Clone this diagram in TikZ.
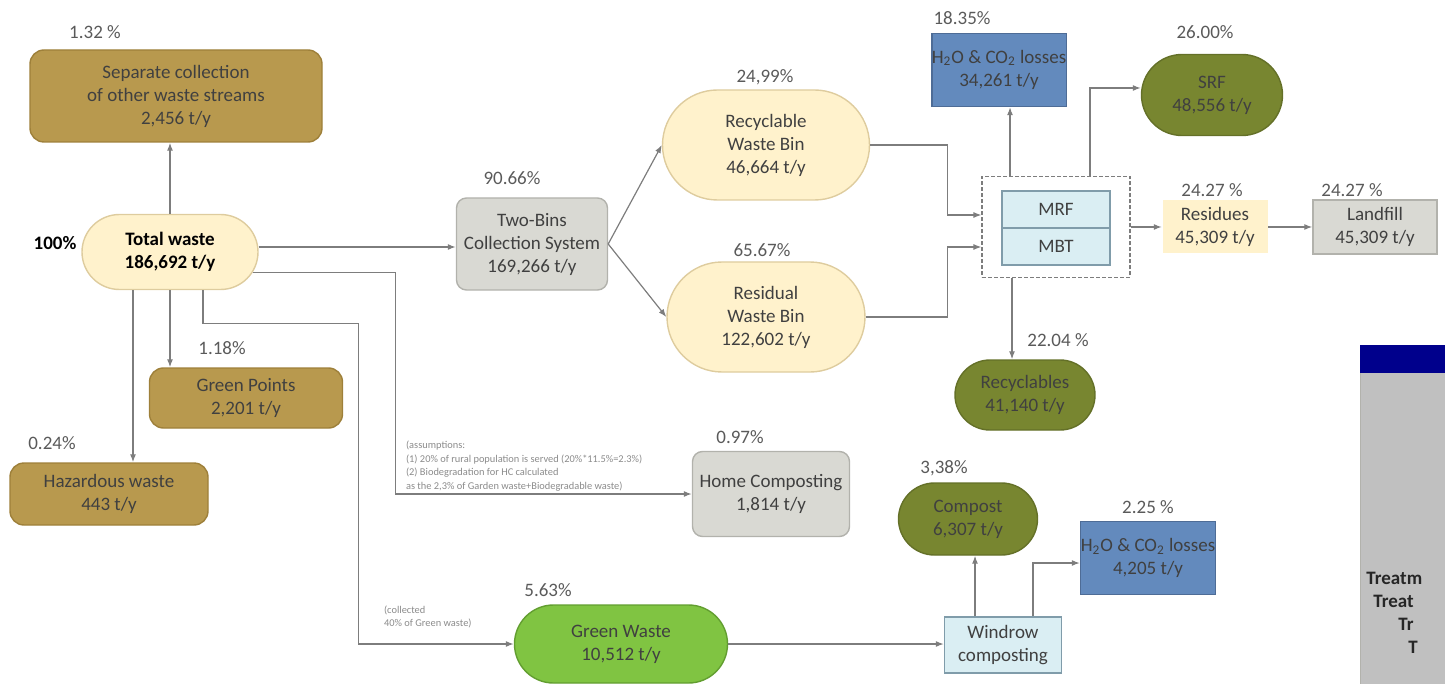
\documentclass[tikz,border=0pt]{standalone}
\usepackage{fontspec}
\setmainfont{Carlito}
\usepackage{xcolor}
\usetikzlibrary{arrows.meta, shapes.misc}

\definecolor{goldfill}{RGB}{184,153,78}
\definecolor{goldline}{RGB}{158,128,58}
\definecolor{olivefill}{RGB}{120,134,48}
\definecolor{oliveline}{RGB}{100,112,40}
\definecolor{yelfill}{RGB}{255,242,204}
\definecolor{yelline}{RGB}{222,204,158}
\definecolor{grayfill}{RGB}{217,217,211}
\definecolor{grayline}{RGB}{178,178,172}
\definecolor{lbfill}{RGB}{218,238,243}
\definecolor{lbline}{RGB}{128,156,170}
\definecolor{bluefill}{RGB}{99,138,189}
\definecolor{blueline}{RGB}{78,108,150}
\definecolor{greenfill}{RGB}{128,196,66}
\definecolor{greenline}{RGB}{98,158,48}
\definecolor{arrgray}{RGB}{125,125,125}
\definecolor{txtgray}{RGB}{64,64,64}
\definecolor{pctgray}{RGB}{90,90,90}
\definecolor{navyhead}{RGB}{0,0,140}
\definecolor{panelgray}{RGB}{192,192,192}

\begin{document}
\begin{tikzpicture}[
      x=0.5pt, y=-0.5pt,
      box/.style={align=center, inner sep=0pt, line width=0.7pt, text=txtgray, font=\fontsize{9.5}{11.5}\selectfont},
      gbox/.style={box, draw=goldline, fill=goldfill, rounded corners=7pt},
      graybox/.style={box, draw=grayline, fill=grayfill, rounded corners=5pt},
      ypill/.style={box, rounded rectangle, draw=yelline, fill=yelfill},
      opill/.style={box, rounded rectangle, draw=oliveline, fill=olivefill},
      gpill/.style={box, rounded rectangle, draw=greenline, fill=greenfill},
      bluebox/.style={box, draw=blueline, fill=bluefill},
      lbbox/.style={box, draw=lbline, fill=lbfill},
      pct/.style={text=pctgray, font=\fontsize{9.5}{11.5}\selectfont},
      note/.style={align=left, text=pctgray!70, font=\fontsize{5.2}{6.7}\selectfont},
      paneltext/.style={anchor=west, inner sep=0pt, text=black!85, font=\fontsize{9.5}{11.5}\selectfont\bfseries},
      arr/.style={-{Latex[length=4pt,width=3pt]}, draw=arrgray, line width=0.6pt}
    ]
    \path[use as bounding box] (0,0) rectangle (1445,684);
    \clip (0,0) rectangle (1445,684);

    % left column
    \node[gbox, minimum width=146pt, minimum height=46pt] (sep) at (176,96) {Separate collection\\of other waste streams\\2,456 t/y};
    \node[ypill, minimum width=88pt, minimum height=37.5pt, text=black, font=\fontsize{9.5}{11.5}\selectfont\bfseries] (total) at (170,252) {Total waste\\186,692 t/y};
    \node[gbox, minimum width=96.5pt, minimum height=30pt] (gpts) at (246,398) {Green Points\\2,201 t/y};
    \node[gbox, minimum width=99pt, minimum height=31pt] (haz) at (109,494) {Hazardous waste\\443 t/y};

    % collection
    \node[graybox, minimum width=75.5pt, minimum height=46pt] (twobins) at (532,244) {Two-Bins\\Collection System\\169,266 t/y};
    \node[ypill, minimum width=103.5pt, minimum height=55pt] (recbin) at (766,145) {Recyclable\\Waste Bin\\46,664 t/y};
    \node[ypill, minimum width=99pt, minimum height=55pt] (resbin) at (766,317) {Residual\\Waste Bin\\122,602 t/y};
    \node[graybox, minimum width=78.5pt, minimum height=42.5pt] (homecomp) at (771,494) {Home Composting\\1,814 t/y};
    \node[gpill, minimum width=106.5pt, minimum height=39pt] (greenw) at (621,644) {Green Waste\\10,512 t/y};

    % treatment
    \node[draw=arrgray, dash pattern=on 2pt off 1pt, line width=0.6pt, minimum width=74pt, minimum height=50.5pt] (plant) at (1056,227) {};
    \node[lbbox, minimum width=54pt, minimum height=18.5pt] (mrf) at (1056,209.5) {MRF};
    \node[lbbox, minimum width=54pt, minimum height=18.5pt] (mbt) at (1056,246.5) {MBT};
    \node[bluebox, minimum width=64pt, minimum height=36.5pt] (loss1) at (999,70) {H\textsubscript{2}O \& CO\textsubscript{2} losses\\34,261 t/y};
    \node[opill, minimum width=70.5pt, minimum height=40.5pt] (srf) at (1212,95) {SRF\\48,556 t/y};
    \node[box, fill=yelfill, minimum width=52.5pt, minimum height=26.5pt] (resid) at (1215,227) {Residues\\45,309 t/y};
    \node[graybox, rounded corners=0pt, minimum width=62pt, minimum height=27pt] (landfill) at (1375,227) {Landfill\\45,309 t/y};
    \node[opill, minimum width=70pt, minimum height=35pt] (recyc) at (1025,395) {Recyclables\\41,140 t/y};
    \node[lbbox, minimum width=58.5pt, minimum height=28pt] (windrow) at (1003,645) {Windrow\\composting};
    \node[opill, minimum width=69.5pt, minimum height=36pt] (compost) at (968,519) {Compost\\6,307 t/y};
    \node[bluebox, minimum width=67.5pt, minimum height=36.5pt] (loss2) at (1148,558) {H\textsubscript{2}O \& CO\textsubscript{2} losses\\4,205 t/y};

    % legend panel (cut off at the right edge)
    \node[draw=grayline, fill=panelgray, anchor=north west, minimum width=50pt, minimum height=170pt, inner sep=0pt] (panel) at (1360,345) {};
    \node[fill=navyhead, anchor=north west, minimum width=50pt, minimum height=14pt, inner sep=0pt] (panelhead) at (1360,345) {};
    \node[paneltext] (tr1) at (1366,578) {Treatm};
    \node[paneltext] (tr2) at (1373,601) {Treat};
    \node[paneltext] (tr3) at (1398,624) {Tr};
    \node[paneltext] (tr4) at (1408,647) {T};

    % percentages
    \node[pct] (p-sep) at (95,32) {1.32 \%};
    \node[pct, text=black, font=\fontsize{9.5}{11.5}\selectfont\bfseries] (p-total) at (55,243) {100\%};
    \node[pct] (p-gpts) at (222,348) {1.18\%};
    \node[pct] (p-haz) at (52,443) {0.24\%};
    \node[pct] (p-twobins) at (512,178) {90.66\%};
    \node[pct] (p-recbin) at (765,77) {24,99\%};
    \node[pct] (p-resbin) at (762,250) {65.67\%};
    \node[pct] (p-loss1) at (962,18) {18.35\%};
    \node[pct] (p-srf) at (1205,32) {26.00\%};
    \node[pct] (p-resid) at (1212,190) {24.27 \%};
    \node[pct] (p-landfill) at (1352,190) {24.27 \%};
    \node[pct] (p-recyc) at (1058,340) {22.04 \%};
    \node[pct] (p-homecomp) at (740,437) {0.97\%};
    \node[pct] (p-compost) at (944,468) {3,38\%};
    \node[pct] (p-loss2) at (1148,507) {2.25 \%};
    \node[pct] (p-greenw) at (548,590) {5.63\%};

    % notes
    \node[note, anchor=west] (assume) at (399,466) {(assumptions:\\(1) 20\% of rural population is served (20\%*11.5\%=2.3\%)\\(2) Biodegradation for HC calculated\\as the 2,3\% of Garden waste+Biodegradable waste)};
    \node[note, anchor=west] (collect) at (377,617) {(collected\\40\% of Green waste)};

    % flows
    \draw[arr] (total.north) -- (total.north |- sep.south);
    \draw[arr] (total.south) -- (total.south |- gpts.north);
    \draw[arr] ([xshift=-18.5pt]total.south) -- ([xshift=-18.5pt]total.south |- haz.north);
    \draw[arr] ([xshift=16.5pt]total.south) -- ++(0,33) -| ([xshift=-77.5pt]greenw.west) -- (greenw.west);
    \draw[arr] (total.-14) -| ([xshift=-148pt]homecomp.west) -- (homecomp.west);
    \draw[arr] ([yshift=2.5pt]total.east) -- ([yshift=2.5pt]total.east -| twobins.west);
    \draw[arr] (twobins.east) -- (recbin.west);
    \draw[arr] (twobins.east) -- (resbin.west);
    \draw[arr] (recbin.east) -| ([xshift=-17pt,yshift=6pt]plant.west) -- ([yshift=6pt]plant.west);
    \draw[arr] (resbin.east) -| ([xshift=-17pt,yshift=-10pt]plant.west) -- ([yshift=-10pt]plant.west);
    \draw[arr] ([xshift=-23pt]plant.north) -- ([xshift=-23pt]plant.north |- loss1.south);
    \draw[arr] ([xshift=17pt]plant.north) |- ([yshift=3.5pt]srf.west);
    \draw[arr] (plant.east) -- (resid.west);
    \draw[arr] (resid.east) -- (landfill.west);
    \draw[arr] ([xshift=-22pt]plant.south) -- ([xshift=-22pt]plant.south |- recyc.north);
    \draw[arr] (greenw.east) -- (greenw.east -| windrow.west);
    \draw[arr] ([xshift=-14pt]windrow.north) -- ([xshift=-14pt]windrow.north |- compost.south);
    \draw[arr] ([xshift=15pt]windrow.north) |- ([yshift=-2.5pt]loss2.west);
  \end{tikzpicture}
\end{document}
